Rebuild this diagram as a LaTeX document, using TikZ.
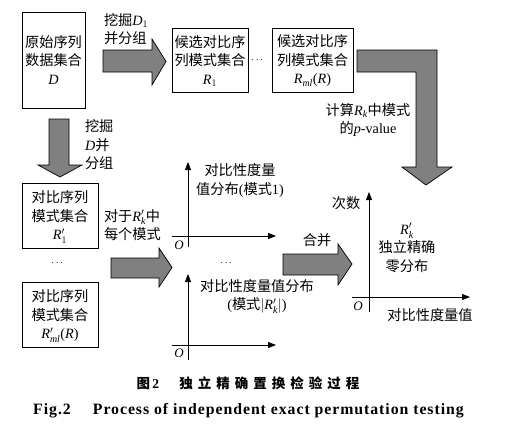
\documentclass[tikz,border=0pt]{standalone}
\usepackage{amsmath}
\usepackage{fontspec}
\setmainfont{Liberation Serif}
\newfontfamily\cjk{Noto Sans CJK SC}
\newfontfamily\lat{Liberation Serif}
\newfontfamily\latcap[LetterSpace=6]{Liberation Serif}
\newcommand\iv[1]{\text{\lat\itshape #1}}
\usetikzlibrary{arrows.meta}
\begin{document}
\begin{tikzpicture}[x=1pt,y=-1pt,
  every node/.style={inner sep=0pt,outer sep=0pt},
  txt/.style={font=\cjk\fontsize{14.2}{18.5}\selectfont,align=center},
  boxn/.style={draw,line width=0.8pt},
  blockarrow/.style={draw,line width=0.7pt,fill=black!50},
  axis/.style={line width=0.8pt,-{Triangle[length=8pt,width=6pt]}}]
\useasboundingbox (0,0) rectangle (512,432);
% boxes
\node[boxn,minimum width=63pt,minimum height=96pt] (D) at (53.5,60) {};
\node[txt] (Dt) at (53.5,60) {原始序列\\数据集合\\{\lat\itshape D}};
\node[boxn,minimum width=76pt,minimum height=64pt] (R1) at (210,60.5) {};
\node[txt] (R1t) at (210,61) {候选对比序\\列模式集合\\$\iv{R}_{1}$};
\node[txt] (dots1) at (258,60) {{\lat\fontsize{10}{10}\selectfont$\cdots$}};
\node[boxn,minimum width=81pt,minimum height=64pt] (Rml) at (312.5,60.5) {};
\node[txt] (Rmlt) at (312.5,61) {候选对比序\\列模式集合\\$\iv{R}_{\iv{ml}}${\lat(\itshape R\upshape)}};
\node[boxn,minimum width=76pt,minimum height=65pt] (Rp1) at (60,215.5) {};
\node[txt] (Rp1t) at (60,217) {对比序列\\模式集合\\$\iv{R}'_{1}$};
\node[txt] (dots2) at (58,263) {{\lat\fontsize{10}{10}\selectfont$\cdots$}};
\node[boxn,minimum width=76pt,minimum height=65pt] (Rpml) at (60,314.5) {};
\node[txt] (Rpmlt) at (60,316) {对比序列\\模式集合\\$\iv{R}'_{\iv{ml}}${\lat(\itshape R\upshape)}};
% block arrows
\draw[blockarrow] (103,50) -- (152,50) -- (152,39) -- (166,61.5) -- (152,85) -- (152,72) -- (103,72) -- cycle;
\draw[blockarrow] (357,50) -- (437,50) -- (437,167) -- (452,167) -- (426,185) -- (402,167) -- (416,167) -- (416,72) -- (357,72) -- cycle;
\draw[blockarrow] (49,119) -- (69,119) -- (69,165) -- (82,165) -- (60,177) -- (38,165) -- (49,165) -- cycle;
\draw[blockarrow] (111,258) -- (159,258) -- (159,248) -- (172,267.5) -- (159,287) -- (159,278) -- (111,278) -- cycle;
\draw[blockarrow] (283,254) -- (338,254) -- (338,244) -- (352,264) -- (338,285) -- (338,275) -- (283,275) -- cycle;
% labels
\node[txt,align=left,anchor=west] (l1) at (104,29) {挖掘$\iv{D}_{1}$\\并分组};
\node[txt] (l2) at (368,120) {计算$\iv{R}_{\iv{k}}$中模式\\的{\lat\itshape p}{\lat -value}};
\node[txt,align=left,anchor=west] (l3) at (85,145) {挖掘\\{\lat\itshape D}并\\分组};
\node[txt,align=left,anchor=west] (l4) at (104,225) {对于$\iv{R}'_{\iv{k}}$中\\每个模式};
\node[txt] (l5) at (317,240) {合并};
% axes 1
\draw[line width=0.8pt] (188,247) -- (188,236);
\draw[axis] (188,247) -- (188,162);
\draw[axis] (172,236) -- (276,236);
\node[font=\lat\itshape\fontsize{13}{13}\selectfont] (O1) at (179,245) {O};
\node[txt] (a1t) at (240,180.5) {对比性度量\\值分布{\lat(}模式{\lat 1)}};
\node[txt] (dots3) at (227,263) {{\lat\fontsize{10}{10}\selectfont$\cdots$}};
% axes 2
\draw[axis] (188,360) -- (188,274);
\draw[axis] (172,345) -- (276,345);
\node[font=\lat\itshape\fontsize{13}{13}\selectfont] (O2) at (179,353) {O};
\node[txt] (a2t) at (257,296.5) {对比性度量值分布\\{\lat(}模式{\lat$|$}$\iv{R}'_{\iv{k}}${\lat$|$)}};
% axes 3
\draw[axis] (369,312) -- (369,192);
\draw[axis] (352,297) -- (470,297);
\node[font=\lat\itshape\fontsize{13}{13}\selectfont] (O3) at (358,306) {O};
\node[txt] (y3) at (346,203) {次数};
\node[txt] (n3) at (407,248) {$\iv{R}'_{\iv{k}}$\\独立精确\\零分布};
\node[txt] (x3) at (430,315) {对比性度量值};
% captions
\node[font=\cjk\bfseries\fontsize{13.5}{13.5}\selectfont] (cap1) at (248,383) {图{\lat\bfseries\,2}\hspace{1.5em}独\hspace{5pt}立\hspace{5pt}精\hspace{5pt}确\hspace{5pt}置\hspace{5pt}换\hspace{5pt}检\hspace{5pt}验\hspace{5pt}过\hspace{5pt}程};
\node[font=\latcap\bfseries\fontsize{15.8}{15.8}\selectfont] (cap2) at (248.5,411) {Fig.2\hspace{1.4em}Process of independent exact permutation testing};
\end{tikzpicture}
\end{document}
